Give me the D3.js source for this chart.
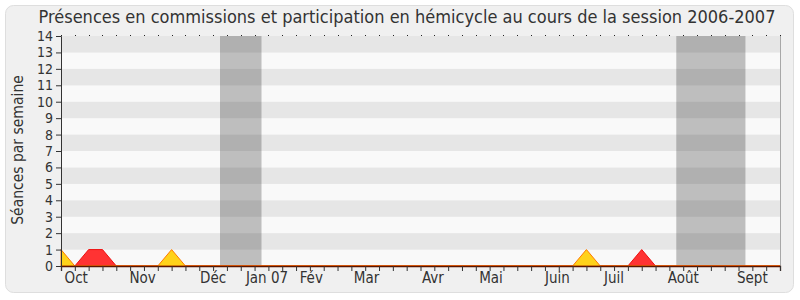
<!DOCTYPE html>
<html>
<head>
<meta charset="utf-8">
<script src="https://cdn.jsdelivr.net/npm/d3@7"></script>
<style>
  html, body { margin: 0; padding: 0; background: #ffffff; }
  svg { display: block; font-family: "DejaVu Sans Condensed", "DejaVu Sans", sans-serif; font-stretch: condensed; }
</style>
</head>
<body>
<svg id="chart" width="800" height="300"></svg>
<script>
// Weekly attendance over the 2006-2007 session (week 0 = start of October)
const weeks = d3.range(0, 53);
const hemicycle = [1,0,0,0,0,0,0,0,1,0,0,0,0,0,0,0,0,0,0,0,0,0,0,0,0,0,0,0,0,0,0,0,0,0,0,0,0,0,1,0,0,0,0,0,0,0,0,0,0,0,0,0,0];
const commissions = [0,0,1,1,0,0,0,0,0,0,0,0,0,0,0,0,0,0,0,0,0,0,0,0,0,0,0,0,0,0,0,0,0,0,0,0,0,0,0,0,0,0,1,0,0,0,0,0,0,0,0,0,0];
// Parliamentary recess periods, in weeks
const recesses = [[11.5, 14.5], [44.5, 49.5]];
const monthLabels = ["Oct", "Nov", "Déc", "Jan 07", "Fév", "Mar", "Avr", "Mai", "Juin", "Juil", "Août", "Sept"];
const monthPositions = [1.1, 5.9, 11.0, 14.9, 18.1, 22.1, 26.9, 31.1, 35.9, 40.0, 45.0, 50.0];
const yTicks = d3.range(0, 15);

const svg = d3.select("#chart");
const margin = { left: 61, right: 20, top: 36, bottom: 34 };
const W = 800, H = 300;

// Panel background
svg.append("rect")
  .attr("x", 5.5).attr("y", 5.5)
  .attr("width", 788).attr("height", 287)
  .attr("rx", 8).attr("ry", 8)
  .attr("fill", "#f0f0f0")
  .attr("stroke", "#dedede");

const x = d3.scaleLinear().domain([0, 52]).range([margin.left, W - margin.right]);
const y = d3.scaleLinear().domain([0, 14]).range([H - margin.bottom, margin.top]);

// Alternating horizontal bands
const bands = svg.append("g");
d3.range(0, 14).forEach(i => {
  bands.append("rect")
    .attr("x", x(0)).attr("width", x(52) - x(0))
    .attr("y", y(i + 1)).attr("height", y(i) - y(i + 1))
    .attr("fill", i % 2 === 0 ? "#f9f9f9" : "#e6e6e6");
});

// Recess shading
svg.append("g").selectAll("rect").data(recesses).join("rect")
  .attr("x", d => x(d[0])).attr("width", d => x(d[1]) - x(d[0]))
  .attr("y", y(14)).attr("height", y(0) - y(14))
  .attr("fill", "rgb(25,25,25)").attr("fill-opacity", 0.263);

// Right border of the plot
svg.append("line")
  .attr("x1", x(52) + 0.5).attr("x2", x(52) + 0.5)
  .attr("y1", y(14)).attr("y2", y(0))
  .attr("stroke", "#a8a8a8");

// Areas
const area = vals => d3.area()
  .x((d, i) => x(weeks[i]))
  .y0(y(0))
  .y1(d => y(d))(vals);

svg.append("path")
  .attr("d", area(commissions))
  .attr("fill", "#ff3333")
  .attr("stroke", "#ee1111").attr("stroke-width", 1);

svg.append("path")
  .attr("d", area(hemicycle))
  .attr("fill", "#ffd21a")
  .attr("stroke", "#ff7a00").attr("stroke-width", 1);

// Top dots at each week
svg.append("g").selectAll("rect").data(weeks).join("rect")
  .attr("x", d => Math.round(x(d))).attr("y", y(14) - 1)
  .attr("width", 1).attr("height", 1)
  .attr("fill", "#222");

// X axis
const xAxis = svg.append("g")
  .attr("transform", `translate(0,${y(0)})`)
  .call(d3.axisBottom(x).tickValues(weeks).tickSize(5).tickFormat(""));
xAxis.select(".domain").attr("stroke", "#5a1500").attr("stroke-width", 1.3);
xAxis.selectAll(".tick line").attr("stroke", "#333");

svg.append("g").selectAll("text").data(monthLabels).join("text")
  .attr("x", (d, i) => x(monthPositions[i]))
  .attr("y", 283)
  .attr("text-anchor", "middle")
  .attr("font-size", 15)
  .attr("fill", "#333")
  .text(d => d);

// Y axis
const yAxis = svg.append("g")
  .attr("transform", `translate(${x(0)},0)`)
  .call(d3.axisLeft(y).tickValues(yTicks).tickSize(5).tickPadding(3));
yAxis.select(".domain").attr("stroke", "#333");
yAxis.selectAll(".tick line").attr("stroke", "#333");
yAxis.selectAll(".tick text")
  .attr("font-size", 14)
  .attr("font-family", "DejaVu Sans, sans-serif")
  .attr("fill", "#333");

// Y title
svg.append("text")
  .attr("transform", "translate(23,150) rotate(-90)")
  .attr("text-anchor", "middle")
  .attr("font-size", 15.5)
  .attr("fill", "#333")
  .text("Séances par semaine");

// Title
svg.append("text")
  .attr("x", 407).attr("y", 23)
  .attr("text-anchor", "middle")
  .attr("font-size", 18)
  .attr("fill", "#333")
  .text("Présences en commissions et participation en hémicycle au cours de la session 2006-2007");
</script>
</body>
</html>
